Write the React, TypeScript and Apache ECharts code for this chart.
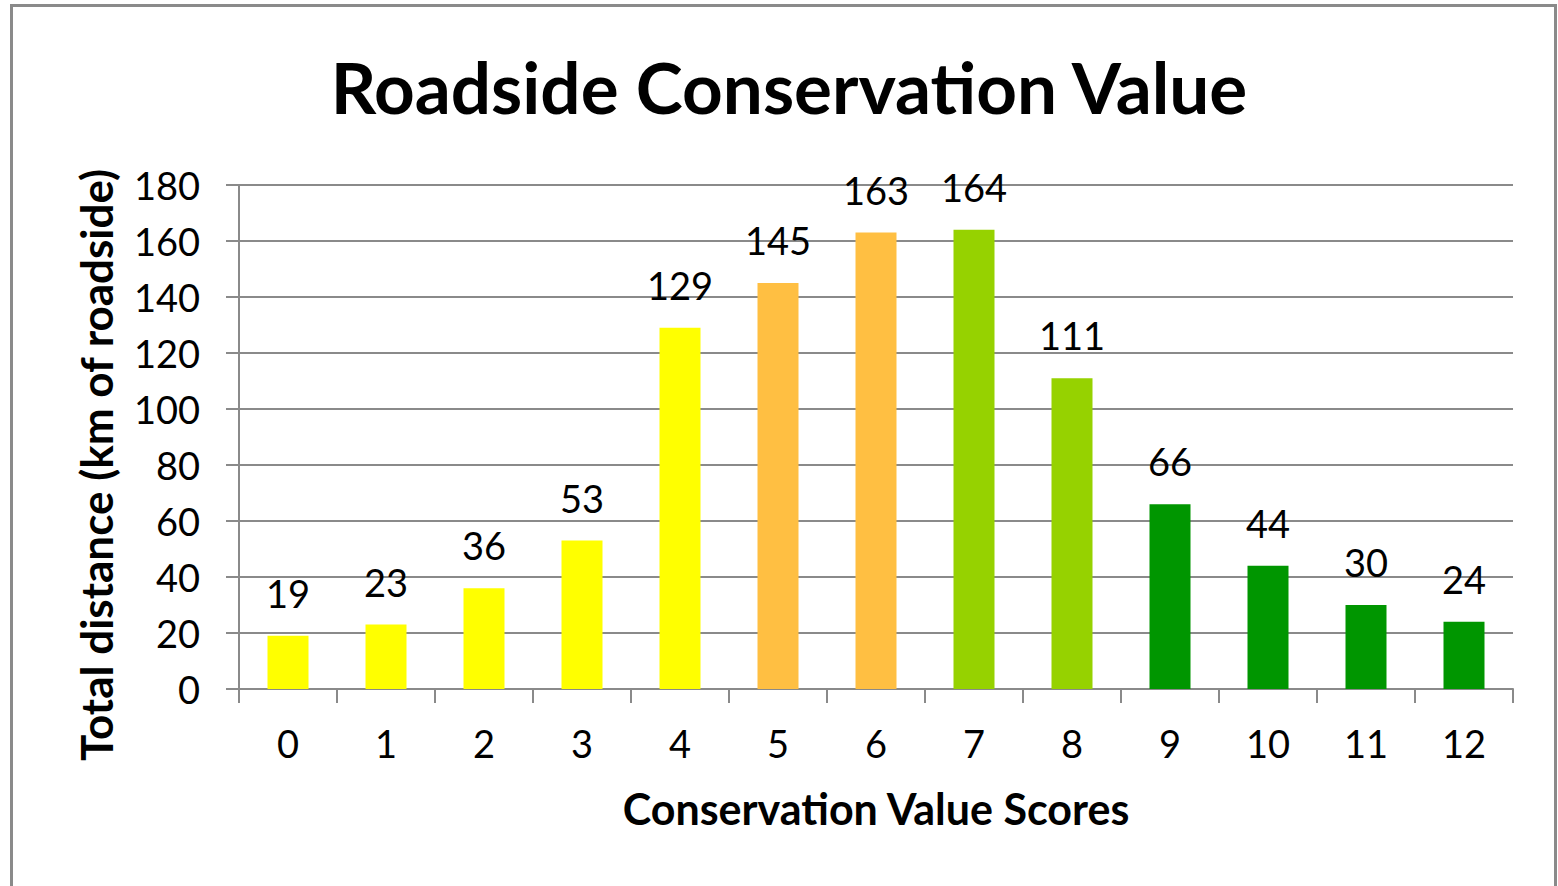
import React, { useEffect, useRef } from "react";
import * as echarts from "echarts";

const categories = ["0", "1", "2", "3", "4", "5", "6", "7", "8", "9", "10", "11", "12"];
const values = [19, 23, 36, 53, 129, 145, 163, 164, 111, 66, 44, 30, 24];
const barColors = [
  "#FFFF00", "#FFFF00", "#FFFF00", "#FFFF00", "#FFFF00",
  "#FFBF42", "#FFBF42",
  "#96D200", "#96D200",
  "#009600", "#009600", "#009600", "#009600",
];
const titleText = "Roadside Conservation Value";
const xAxisTitle = "Conservation Value Scores";
const yAxisTitle = "Total distance (km of roadside)";

const FONT = "Lato, 'Open Sans', sans-serif";

export default function App() {
  const ref = useRef<HTMLDivElement>(null);
  useEffect(() => {
    document.body.style.margin = "0";
    const chart = echarts.init(ref.current!, null, { renderer: "svg" });
    chart.setOption({
      animation: false,
      backgroundColor: "#ffffff",
      title: {
        text: titleText,
        left: 784,
        textAlign: "center",
        top: 46,
        textStyle: { fontFamily: FONT, fontSize: 71, fontWeight: "bold", color: "#000" },
      },
      graphic: [
        {
          type: "rect",
          shape: { x: 11.5, y: 5.5, width: 1544, height: 920 },
          style: { fill: "none", stroke: "#8a8a8a", lineWidth: 3 },
          z: 100,
        },
        {
          type: "text",
          x: 96,
          y: 465,
          rotation: Math.PI / 2,
          style: {
            text: yAxisTitle,
            font: "bold 44px Lato, 'Open Sans', sans-serif",
            fill: "#000",
            textAlign: "center",
            textVerticalAlign: "middle",
          },
        },
      ],
      grid: { left: 239, right: 45, top: 185, bottom: 197 },
      xAxis: {
        type: "category",
        data: categories,
        name: xAxisTitle,
        nameLocation: "middle",
        nameGap: 98,
        nameTextStyle: { fontFamily: FONT, fontSize: 43, fontWeight: "bold", color: "#000" },
        axisLine: { lineStyle: { color: "#8a8a8a", width: 2 } },
        axisTick: { show: true, length: 14, alignWithLabel: false, lineStyle: { color: "#8a8a8a", width: 2 } },
        axisLabel: { margin: 35, fontFamily: FONT, fontSize: 38, color: "#000" },
      },
      yAxis: {
        type: "value",
        min: 0,
        max: 180,
        interval: 20,
        axisLine: { show: true, lineStyle: { color: "#8a8a8a", width: 2 } },
        axisTick: { show: true, length: 13, inside: false, lineStyle: { color: "#8a8a8a", width: 2 } },
        axisLabel: { margin: 39, fontFamily: FONT, fontSize: 38, color: "#000" },
        splitLine: { lineStyle: { color: "#8a8a8a", width: 2 } },
      },
      series: [
        {
          type: "bar",
          data: values.map((v, i) => ({ value: v, itemStyle: { color: barColors[i] } })),
          barWidth: 41,
          label: {
            show: true,
            position: "top",
            distance: 24,
            fontFamily: FONT,
            fontSize: 38,
            color: "#000",
          },
        },
      ],
    });
    return () => chart.dispose();
  }, []);
  return <div ref={ref} style={{ width: 1558, height: 886 }} />;
}
